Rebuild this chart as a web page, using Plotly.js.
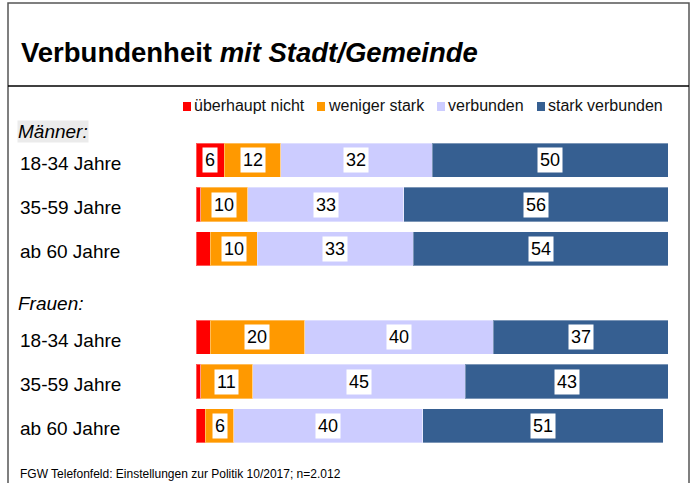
<!DOCTYPE html>
<html>
<head>
<meta charset="utf-8">
<script src="https://cdn.plot.ly/plotly-3.0.1.min.js"></script>
<style>
body { margin: 0; background: #fff; }
#graph { width: 691px; height: 483px; }
</style>
</head>
<body>
<div id="graph"></div>
<script>
// Verbundenheit mit Stadt/Gemeinde, Anteile in Prozent
var groupLabels = ["Männer:", "Frauen:"];
var rowLabels = ["18-34 Jahre", "35-59 Jahre", "ab 60 Jahre", "18-34 Jahre", "35-59 Jahre", "ab 60 Jahre"];
var rowGroup = [0, 0, 0, 1, 1, 1];
var seriesNames = ["überhaupt nicht", "weniger stark", "verbunden", "stark verbunden"];
var seriesColors = ["#ff0000", "#ff9900", "#ccccff", "#365f91"];

var ueberhauptNicht = [6, 1, 3, 3, 1, 2];
var wenigerStark = [12, 10, 10, 20, 11, 6];
var verbunden = [32, 33, 33, 40, 45, 40];
var starkVerbunden = [50, 56, 54, 37, 43, 51];

var sourceText = "FGW Telefonfeld: Einstellungen zur Politik 10/2017; n=2.012";

var W = 691, H = 483;
var M = {l: 196, r: 23, t: 116, b: 13};
var FONT = "Liberation Sans, Arial, sans-serif";

// pixel -> paper helpers for things outside the plot area
function px(x) { return (x - M.l) / (W - M.l - M.r); }
function py(y) { return (H - M.b - y) / (H - M.t - M.b); }

function genGraph()
{
	var series = [ueberhauptNicht, wenigerStark, verbunden, starkVerbunden];
	var rowPos = rowLabels.map(function (l, i) { return i + rowGroup[i]; });
	var data = [], annotations = [], shapes = [];
	var i, j;

	for (j = 0; j < series.length; j++)
	{
		data.push({
			type: "bar",
			orientation: "h",
			name: seriesNames[j],
			x: series[j],
			y: rowPos,
			width: 0.77,
			marker: {color: seriesColors[j], line: {color: "rgba(255,255,255,0.35)", width: 1}},
			hoverinfo: "none"
		});
	}

	// value labels in white boxes
	for (i = 0; i < rowPos.length; i++)
	{
		var cum = 0;
		for (j = 0; j < series.length; j++)
		{
			var v = series[j][i];
			if (v >= 5)
			{
				annotations.push({
					x: cum + v / 2, y: rowPos[i], xref: "x", yref: "y",
					text: String(v), showarrow: false,
					bgcolor: "#ffffff", borderpad: 2,
					font: {family: FONT, size: 18, color: "#000"}
				});
			}
			cum += v;
		}
	}

	// row labels
	for (i = 0; i < rowPos.length; i++)
	{
		annotations.push({
			x: px(19), y: rowPos[i], xref: "paper", yref: "y",
			xanchor: "left", yanchor: "middle", yshift: -3,
			text: rowLabels[i], showarrow: false, borderpad: 0,
			font: {family: FONT, size: 19, color: "#000"}
		});
	}

	// group labels
	var groupY = [131.5, 303];
	for (i = 0; i < groupLabels.length; i++)
	{
		annotations.push({
			x: px(17), y: py(groupY[i]), xref: "paper", yref: "paper",
			xanchor: "left", yanchor: "middle",
			text: "<i>" + groupLabels[i] + "</i>", showarrow: false, borderpad: 0,
			bgcolor: i == 0 ? "#ebebeb" : "rgba(0,0,0,0)",
			font: {family: FONT, size: 19, color: "#000"}
		});
	}

	// legend
	var legX = [183, 317, 437, 537];
	for (j = 0; j < seriesNames.length; j++)
	{
		shapes.push({
			type: "rect", xref: "paper", yref: "paper",
			x0: px(legX[j]), x1: px(legX[j] + 8), y0: py(111), y1: py(102),
			fillcolor: seriesColors[j], line: {width: 0}
		});
		annotations.push({
			x: px(legX[j] + 11), y: py(105.5), xref: "paper", yref: "paper",
			xanchor: "left", yanchor: "middle",
			text: seriesNames[j], showarrow: false, borderpad: 0, borderwidth: 0,
			font: {family: FONT, size: 16, color: "#111"}
		});
	}

	// source
	annotations.push({
		x: px(19), y: py(474), xref: "paper", yref: "paper",
		xanchor: "left", yanchor: "middle",
		text: sourceText, showarrow: false, borderpad: 0,
		font: {family: FONT, size: 12, color: "#000"}
	});

	// frame and header rule
	shapes.push({
		type: "rect", xref: "paper", yref: "paper",
		x0: px(8), x1: px(689), y0: py(495), y1: py(3),
		line: {color: "#555", width: 1.5}
	});
	shapes.push({
		type: "line", xref: "paper", yref: "paper",
		x0: px(8), x1: px(689), y0: py(86), y1: py(86),
		line: {color: "#000", width: 1.5}
	});

	var layout = {
		width: W, height: H,
		margin: M,
		paper_bgcolor: "#fff", plot_bgcolor: "#fff",
		barmode: "stack",
		showlegend: false,
		title: {
			text: "Verbundenheit <i>mit Stadt/Gemeinde</i>",
			xref: "container", yref: "container",
			x: 21 / W, xanchor: "left",
			y: 1 - 52 / H, yanchor: "middle",
			font: {family: FONT, size: 27.5, color: "#000", weight: "bold"}
		},
		xaxis: {range: [0, 100], visible: false, fixedrange: true},
		yaxis: {range: [7, -1], visible: false, fixedrange: true},
		annotations: annotations,
		shapes: shapes
	};

	Plotly.newPlot("graph", data, layout, {displayModeBar: false, staticPlot: true});
}

genGraph();
</script>
</body>
</html>
